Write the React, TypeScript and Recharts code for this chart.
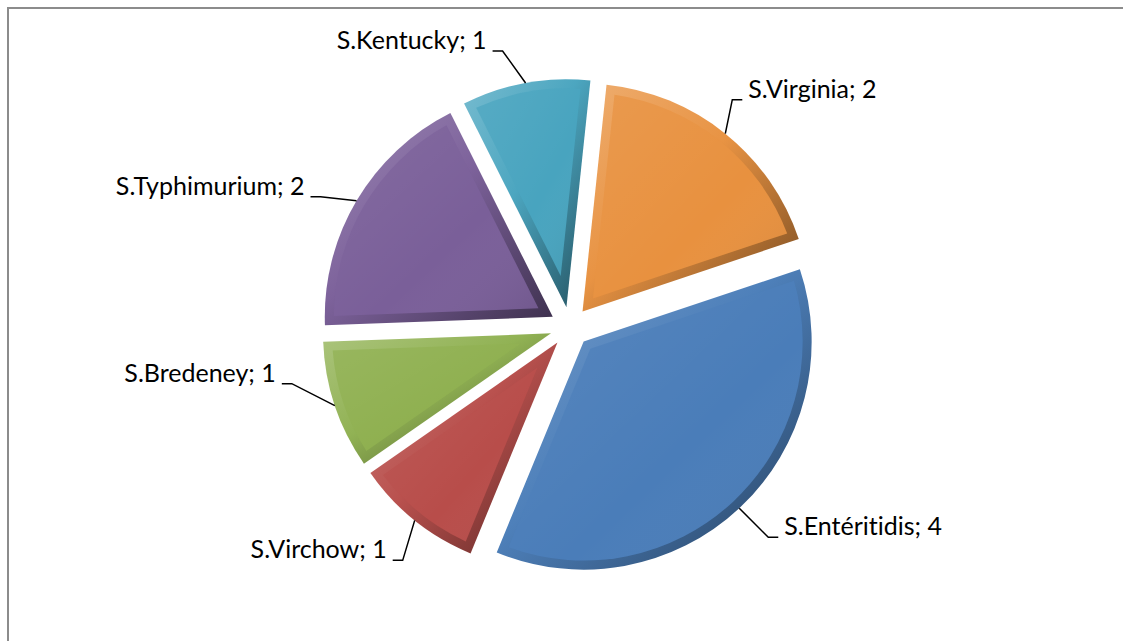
import React from "react";
import { PieChart, Pie, Cell } from "recharts";

const categories = ["S.Entéritidis", "S.Virchow", "S.Bredeney", "S.Typhimurium", "S.Kentucky", "S.Virginia"];
const counts = [4, 1, 1, 2, 1, 2];
const colors = ["#4A7DB9", "#B84D4A", "#8FB050", "#7A5F99", "#48A4BF", "#E8913F"];

// where each leader line bends, relative to the slice edge (layout only)
const labelElbows: [number, number][] = [
  [29, 29],
  [-12, 40],
  [-43, -22],
  [-36, -4],
  [-23, -32],
  [7, -34],
];

const data = categories.map((name, i) => ({ name, value: counts[i] }));

const W = 1123;
const H = 641;
const CX = 570;
const CY = 327;
const R = 228;
const EXPLODE = 20;
const BEVEL = 9;
const RAD = Math.PI / 180;

const pt = (x: number, y: number, r: number, a: number) => [x + r * Math.cos(-a * RAD), y + r * Math.sin(-a * RAD)];

function shade(hex: string, f: number) {
  const n = parseInt(hex.slice(1), 16);
  const ch = [(n >> 16) & 255, (n >> 8) & 255, n & 255].map(c =>
    Math.round(f >= 0 ? c + (255 - c) * f : c * (1 + f))
  );
  return `rgb(${ch.join(",")})`;
}

function renderSlice(props: any) {
  const { cx, cy, outerRadius, startAngle, endAngle, midAngle, index, name, value } = props;
  const [ox, oy] = pt(cx, cy, EXPLODE, midAngle);
  const hi = Math.max(startAngle, endAngle);
  const lo = Math.min(startAngle, endAngle);
  const span = hi - lo;
  const large = span > 180 ? 1 : 0;

  const [sx, sy] = pt(ox, oy, outerRadius, hi);
  const [ex, ey] = pt(ox, oy, outerRadius, lo);
  const outer = `M${ox},${oy} L${sx},${sy} A${outerRadius},${outerRadius} 0 ${large} 1 ${ex},${ey} Z`;

  const ir = outerRadius - BEVEL;
  const d = Math.asin(BEVEL / ir) / RAD;
  const [tx, ty] = pt(ox, oy, BEVEL / Math.sin((span / 2) * RAD), midAngle);
  const [isx, isy] = pt(ox, oy, ir, hi - d);
  const [iex, iey] = pt(ox, oy, ir, lo + d);
  const inner = `M${tx},${ty} L${isx},${isy} A${ir},${ir} 0 ${large} 1 ${iex},${iey} Z`;

  const [ax, ay] = pt(ox, oy, outerRadius, midAngle);
  const [odx, ody] = labelElbows[index];
  const elx = ax + odx;
  const ely = ay + ody;
  const left = Math.cos(-midAngle * RAD) < 0;
  const hx = elx + (left ? -10 : 10);
  const textX = hx + (left ? -6 : 6);

  return (
    <g key={`slice-${index}`}>
      <path d={outer} fill={`url(#bev${index})`} />
      <path d={inner} fill={colors[index]} />
      <path d={inner} fill={`url(#gloss${index})`} />
      <polyline points={`${ax},${ay} ${elx},${ely} ${hx},${ely}`} fill="none" stroke="#000" strokeWidth={1.5} />
      <text
        x={textX}
        y={ely - 2}
        textAnchor={left ? "end" : "start"}
        fontFamily="Lato, 'Noto Sans', sans-serif"
        fontSize={25}
        fill="#000"
        style={{ fontVariantLigatures: "none" }}
      >
        {`${name}; ${value}`}
      </text>
    </g>
  );
}

export default function App() {
  return (
    <div style={{ position: "absolute", left: 0, top: 0, width: W, height: H, overflow: "hidden", background: "#fff" }}>
      <div
        style={{
          position: "absolute",
          left: 7,
          top: 7,
          width: W + 100,
          height: H + 100,
          border: "2px solid #8C8C8C",
        }}
      />
      <div style={{ position: "absolute", left: 0, top: 0 }}>
        <PieChart width={W} height={H} margin={{ top: 0, right: 0, bottom: 0, left: 0 }}>
          <defs>
            {colors.map((c, i) => (
              <linearGradient key={`bev${i}`} id={`bev${i}`} x1="0" y1="0" x2="1" y2="1">
                <stop offset="0%" stopColor={shade(c, 0.25)} />
                <stop offset="45%" stopColor={shade(c, 0.02)} />
                <stop offset="100%" stopColor={shade(c, -0.5)} />
              </linearGradient>
            ))}
            {colors.map((c, i) => (
              <linearGradient key={`gloss${i}`} id={`gloss${i}`} x1="0" y1="0" x2="1" y2="1">
                <stop offset="0%" stopColor="#fff" stopOpacity={0.08} />
                <stop offset="60%" stopColor="#fff" stopOpacity={0} />
                <stop offset="100%" stopColor="#000" stopOpacity={0.08} />
              </linearGradient>
            ))}
          </defs>
          <Pie
            data={data}
            dataKey="value"
            nameKey="name"
            cx={CX}
            cy={CY}
            outerRadius={R}
            startAngle={18.5}
            endAngle={-341.5}
            stroke="none"
            labelLine={false}
            label={renderSlice}
            isAnimationActive={false}
          >
            {data.map((d, i) => (
              <Cell key={d.name} fill={colors[i]} fillOpacity={0} />
            ))}
          </Pie>
        </PieChart>
      </div>
    </div>
  );
}
